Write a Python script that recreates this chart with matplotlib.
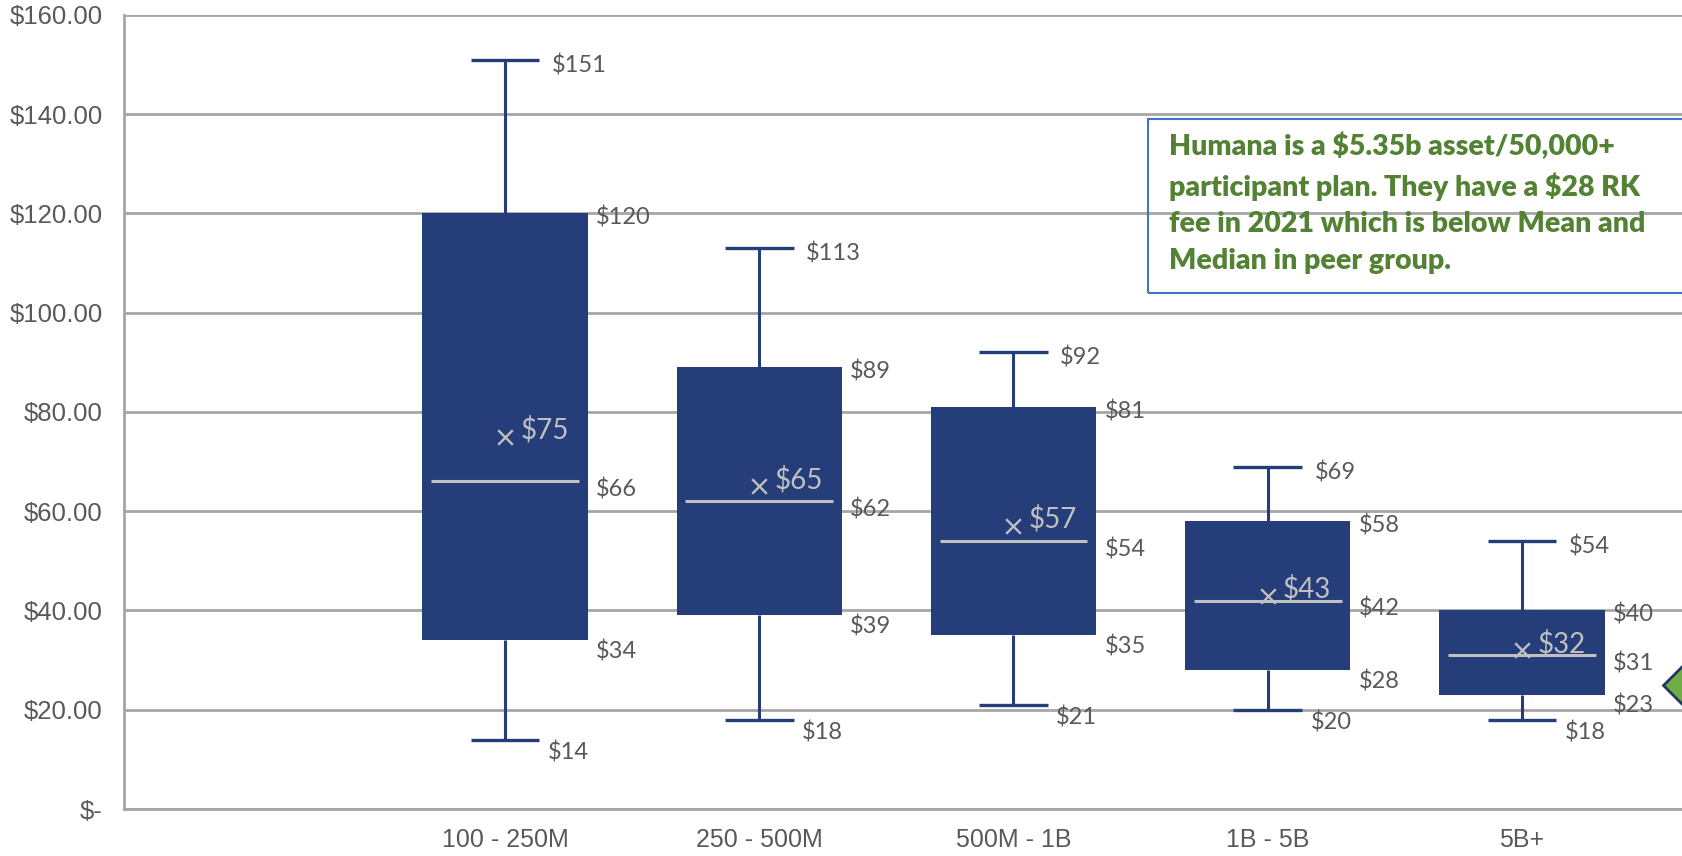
import matplotlib.pyplot as plt
from matplotlib.patches import Rectangle

plt.rcParams['text.parse_math'] = False

# peer group record-keeping fees per participant
categories = ["", "100 - 250M", "250 - 500M", "500M - 1B", "1B - 5B", "5B+"]
fee_min = [14, 18, 21, 20, 18]
fee_q1 = [34, 39, 35, 28, 23]
fee_median = [66, 62, 54, 42, 31]
fee_mean = [75, 65, 57, 43, 32]
fee_q3 = [120, 89, 81, 58, 40]
fee_max = [151, 113, 92, 69, 54]
humana_fee = 25

y_ticks = [0, 20, 40, 60, 80, 100, 120, 140, 160]
y_tick_labels = ["$-", "$20.00", "$40.00", "$60.00", "$80.00",
                 "$100.00", "$120.00", "$140.00", "$160.00"]

note = ("Humana is a $5.35b asset/50,000+\n"
        "participant plan. They have a $28 RK\n"
        "fee in 2021 which is below Mean and\n"
        "Median in peer group.")

BLUE = "#253E79"
LIGHT = "#C0C0C0"
GRID = "#A6A6A6"
TXT = "#595959"
LABEL_FONT = ["Lato", "DejaVu Sans"]

pos = list(range(1, len(categories)))
box_w = 0.65
cap_w = 0.27
med_w = 0.58

fig = plt.figure(figsize=(16.83, 8.56), dpi=100)
ax = fig.add_axes([0.0734, 0.0549, 1 - 0.0734, 0.9825 - 0.0549])

# boxes, whiskers, caps
heights = [q3 - q1 for q1, q3 in zip(fee_q1, fee_q3)]
ax.bar(pos, heights, bottom=fee_q1, width=box_w, color=BLUE, zorder=3)
ax.vlines(pos, fee_q3, fee_max, color=BLUE, lw=2.2, zorder=2)
ax.vlines(pos, fee_min, fee_q1, color=BLUE, lw=2.2, zorder=2)
ax.hlines(fee_max, [p - cap_w / 2 for p in pos], [p + cap_w / 2 for p in pos],
          color=BLUE, lw=2.4, zorder=3)
ax.hlines(fee_min, [p - cap_w / 2 for p in pos], [p + cap_w / 2 for p in pos],
          color=BLUE, lw=2.4, zorder=3)
ax.hlines(fee_median, [p - med_w / 2 for p in pos], [p + med_w / 2 for p in pos],
          color=LIGHT, lw=2.2, zorder=4)
ax.scatter(pos, fee_mean, marker="x", s=110, color=LIGHT, linewidths=1.7, zorder=5)

# value labels
for i, p in enumerate(pos):
    lab = dict(textcoords="offset points", va="center", ha="left",
               fontsize=17, color=TXT, family=LABEL_FONT)
    ax.annotate(f"${fee_max[i]}", (p + cap_w / 2, fee_max[i]), xytext=(9, -4), **lab)
    ax.annotate(f"${fee_q3[i]}", (p + box_w / 2, fee_q3[i]), xytext=(6, -3), **lab)
    ax.annotate(f"${fee_median[i]}", (p + box_w / 2, fee_median[i]), xytext=(6, -6), **lab)
    ax.annotate(f"${fee_q1[i]}", (p + box_w / 2, fee_q1[i]), xytext=(6, -8), **lab)
    ax.annotate(f"${fee_min[i]}", (p + cap_w / 2, fee_min[i]), xytext=(6, -9), **lab)
    lab["color"] = LIGHT
    lab["fontsize"] = 20
    ax.annotate(f"${fee_mean[i]}", (p, fee_mean[i]), xytext=(11, 5), **lab)

# Humana marker
ax.plot([5.676], [humana_fee], marker="D", ms=32, color="#70AD47",
        mec="#1F3864", mew=2, clip_on=False, zorder=6)

ax.set_xlim(-0.5, 5.633)
ax.set_ylim(0, 160)
ax.set_yticks(y_ticks)
ax.set_yticklabels(y_tick_labels, fontsize=18.5, color=TXT,
                   family=["Liberation Sans", "DejaVu Sans"])
ax.set_xticks(range(len(categories)))
ax.set_xticklabels(categories, fontsize=18, color=TXT,
                   family=["Liberation Sans Narrow", "Liberation Sans", "DejaVu Sans"])
ax.tick_params(axis="y", length=0, pad=15)
ax.tick_params(axis="x", length=0, pad=14)

ax.yaxis.grid(True, color=GRID, lw=2)
ax.set_axisbelow(True)
for s in ["top", "right"]:
    ax.spines[s].set_visible(False)
for s in ["left", "bottom"]:
    ax.spines[s].set_color(GRID)
    ax.spines[s].set_linewidth(2)

# annotation box
fig.add_artist(Rectangle((1148 / 1683, 1 - 293 / 856), 0.4, (293 - 119) / 856,
                         transform=fig.transFigure, fill=False,
                         ec="#4472C4", lw=1.5, zorder=10))
fig.text(1169 / 1683, 1 - 133 / 856, note, va="top", ha="left",
         fontsize=20.5, fontweight="heavy", color="#548235",
         family=LABEL_FONT, linespacing=1.5, zorder=11)

fig.savefig("out.png", dpi=100)
